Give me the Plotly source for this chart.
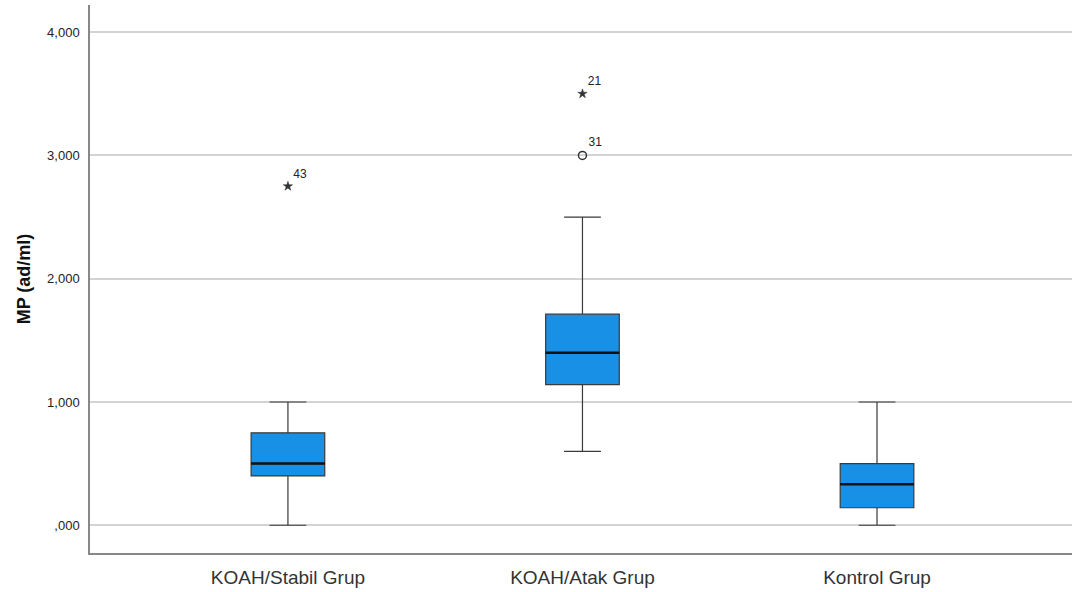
import plotly.graph_objects as go

categories = ["KOAH/Stabil Grup", "KOAH/Atak Grup", "Kontrol Grup"]
q1 = [400, 1140, 142]
median = [500, 1400, 333]
q3 = [750, 1712, 500]
lower = [0, 600, 0]
upper = [1000, 2500, 1000]

# outliers: (group index, value, case label, type)
out_group = [0, 1, 1]
out_value = [2750, 3500, 3000]
out_label = ["43", "21", "31"]
out_kind = ["extreme", "extreme", "outlier"]

y_ticks = [0, 1000, 2000, 3000, 4000]
y_ticktext = [",000", "1,000", "2,000", "3,000", "4,000"]

xpos = list(range(len(categories)))
box_w = 0.25
fill = "#1790E6"

fig = go.Figure()
fig.add_trace(go.Box(
    x=xpos, q1=q1, median=median, q3=q3, lowerfence=lower, upperfence=upper,
    width=box_w, whiskerwidth=0.5, fillcolor=fill,
    line=dict(color="#3a3a3a", width=1.2), boxpoints=False, hoverinfo="skip",
    showlegend=False,
))
# thicker median lines
mx, my = [], []
for i, m in zip(xpos, median):
    mx += [i - box_w / 2, i + box_w / 2, None]
    my += [m, m, None]
fig.add_trace(go.Scatter(x=mx, y=my, mode="lines", line=dict(color="#111111", width=2.5),
                         showlegend=False, hoverinfo="skip"))

for kind, sym, size, lw in [("extreme", "star", 7, 0.5), ("outlier", "circle-open", 8, 1.5)]:
    xs = [out_group[k] for k in range(len(out_value)) if out_kind[k] == kind]
    ys = [out_value[k] for k in range(len(out_value)) if out_kind[k] == kind]
    ts = [out_label[k] for k in range(len(out_value)) if out_kind[k] == kind]
    fig.add_trace(go.Scatter(
        x=xs, y=ys, mode="markers+text", text=ts, textposition="top right",
        textfont=dict(family="Arial, Liberation Sans", size=12, color="#222"),
        marker=dict(symbol=sym, size=size, color="#333", line=dict(color="#333", width=lw)),
        showlegend=False, hoverinfo="skip",
    ))

fig.update_layout(
    width=1076, height=592,
    margin=dict(l=90, r=4, t=5, b=39),
    paper_bgcolor="white", plot_bgcolor="white",
    font=dict(family="Arial, Liberation Sans", color="#222"),
)
fig.update_xaxes(
    tickvals=xpos, ticktext=categories, range=[-0.672, 2.662],
    showgrid=False, zeroline=False, showline=True, linecolor="#888", linewidth=1.5,
    tickfont=dict(size=19, color="#333"), ticks="", ticklabelstandoff=6,
)
fig.update_yaxes(
    tickvals=y_ticks, ticktext=y_ticktext, range=[-225, 4220],
    showgrid=True, gridcolor="#d3d3d3", gridwidth=1.5, zeroline=False,
    showline=True, linecolor="#888", linewidth=1.5,
    tickfont=dict(size=13, color="#222"), ticks="", ticklabelstandoff=6,
    title=dict(text="<b>MP (ad/ml)</b>", font=dict(size=18, color="#111"), standoff=12),
)
fig.write_html("out.html")
